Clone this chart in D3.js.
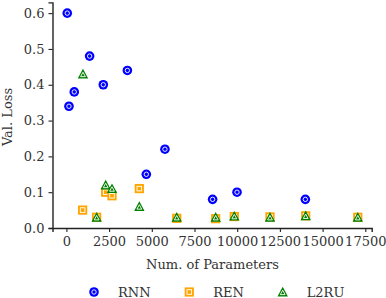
<!DOCTYPE html>
<html><head><meta charset="utf-8">
<script src="https://cdn.jsdelivr.net/npm/d3@7"></script>
<style>body{margin:0;background:#fff}text{font-family:"DejaVu Serif",serif;fill:#333}</style>
</head><body><svg id="c" width="386" height="298"></svg>
<script>
const rnnX = [50, 150, 460, 1360, 2160, 3570, 4680, 5770, 8560, 9990, 13990];
const rnnY = [0.60, 0.34, 0.38, 0.48, 0.40, 0.44, 0.15, 0.22, 0.08, 0.10, 0.08];
const renX = [950, 1770, 2300, 2670, 4270, 6460, 8740, 9830, 11920, 14010, 17060];
const renY = [0.05, 0.03, 0.10, 0.09, 0.11, 0.027, 0.026, 0.032, 0.031, 0.034, 0.03];
const l2ruX = [970, 1770, 2300, 2670, 4270, 6460, 8740, 9830, 11920, 14010, 17060];
const l2ruY = [0.43, 0.03, 0.12, 0.11, 0.06, 0.03, 0.03, 0.033, 0.03, 0.034, 0.03];
const xTicks = [0, 2500, 5000, 7500, 10000, 12500, 15000, 17500];
const yTicks = [0.0, 0.1, 0.2, 0.3, 0.4, 0.5, 0.6];
const seriesNames = ["RNN", "REN", "L2RU"];

const FS = 13;
const svg = d3.select("#c");
const x = d3.scaleLinear().domain([-814, 17875]).range([52.5, 371.7]);
const y = d3.scaleLinear().domain([0, 0.63]).range([228, 2.4]);

const gx = svg.append("g").attr("transform", "translate(0,228)")
  .call(d3.axisBottom(x).tickValues(xTicks).tickFormat(d3.format("d")).tickSizeOuter(0).tickSize(4).tickPadding(4.5));
const gy = svg.append("g").attr("transform", "translate(52.5,0)")
  .call(d3.axisLeft(y).tickValues(yTicks).tickFormat(d3.format(".1f")).tickSizeOuter(0).tickSize(4).tickPadding(4));
[gx, gy].forEach(g => {
  g.select(".domain").attr("stroke", "#222").attr("stroke-width", 1.4);
  g.selectAll(".tick line").attr("stroke", "#222").attr("stroke-width", 1.1);
  g.selectAll(".tick text").attr("font-size", FS).attr("font-family", "DejaVu Serif").attr("fill", "#333");
});

svg.append("text").attr("x", 212.5).attr("y", 268.5).attr("text-anchor", "middle").attr("font-size", FS).attr("fill", "#333").text("Num. of Parameters");
svg.append("text").attr("transform", "translate(12,117) rotate(-90)").attr("text-anchor", "middle").attr("font-size", FS).attr("fill", "#333").text("Val. Loss");

const colors = {RNN: "#0000ff", REN: "#ffa500", L2RU: "#008000"};
function marker(g, type, cx, cy) {
  const c = colors[type];
  if (type === "RNN") {
    g.append("circle").attr("cx", cx).attr("cy", cy).attr("r", 4.8).attr("fill", c);
    g.append("circle").attr("cx", cx).attr("cy", cy).attr("r", 2.2).attr("fill", "none").attr("stroke", "#fff").attr("stroke-width", 0.9);
  } else if (type === "REN") {
    g.append("rect").attr("x", cx - 4.6).attr("y", cy - 4.6).attr("width", 9.2).attr("height", 9.2).attr("fill", c);
    g.append("rect").attr("x", cx - 2.3).attr("y", cy - 2.3).attr("width", 4.6).attr("height", 4.6).attr("fill", "none").attr("stroke", "#fff").attr("stroke-width", 0.9);
  } else {
    const s = 5.2, si = 2.4;
    g.append("path").attr("d", `M${cx},${cy - s}L${cx + s},${cy + s * 0.85}L${cx - s},${cy + s * 0.85}Z`).attr("fill", c);
    g.append("path").attr("d", `M${cx},${cy - si + 0.6}L${cx + si},${cy + si * 0.85 + 0.6}L${cx - si},${cy + si * 0.85 + 0.6}Z`).attr("fill", "none").attr("stroke", "#fff").attr("stroke-width", 0.9);
  }
}
const data = {RNN: [rnnX, rnnY], REN: [renX, renY], L2RU: [l2ruX, l2ruY]};
const pg = svg.append("g");
seriesNames.forEach(n => {
  const [xs, ys] = data[n];
  xs.forEach((v, i) => marker(pg, n, x(v), y(ys[i])));
});

const legX = [94, 189.3, 282.7];
const lg = svg.append("g");
seriesNames.forEach((n, i) => {
  marker(lg, n, legX[i], 292);
  lg.append("text").attr("x", legX[i] + 24).attr("y", 296.5).attr("font-size", FS).attr("fill", "#333").text(n);
});
</script></body></html>
